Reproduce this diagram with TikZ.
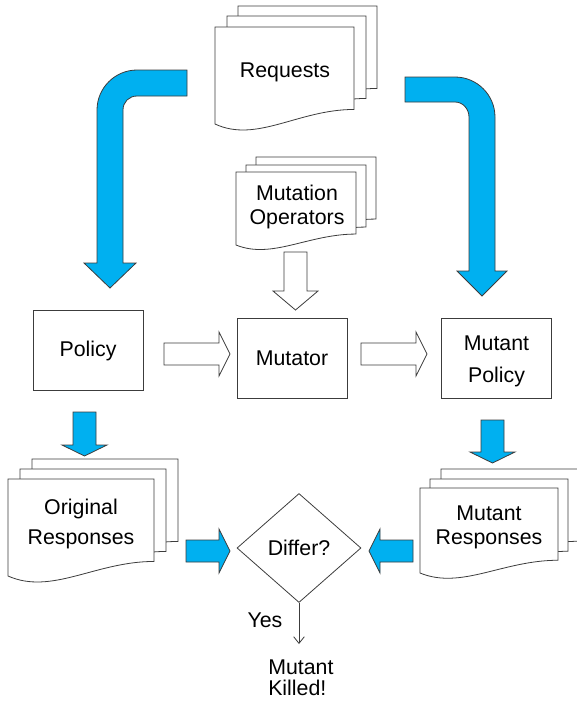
\documentclass[tikz,border=0pt]{standalone}
\usepackage{fontspec}
\setmainfont{Liberation Sans}
\usetikzlibrary{calc}
\usetikzlibrary{arrows.meta}
\usetikzlibrary{shapes.geometric}

\definecolor{arrowblue}{RGB}{0,176,240}
\definecolor{edgegray}{RGB}{60,60,60}

% one page of a document stack, top left corner at (#1,#2)
\newcommand{\docpage}[4]{%
  \draw[page] (#1,#2) -- ({#1+#3},#2) -- ({#1+#3},{#2+0.85*#4})
    .. controls ({#1+0.6*#3},{#2+0.85*#4}) and ({#1+0.3*#3},{#2+1.2*#4}) .. (#1,{#2+#4}) -- cycle;}

\tikzset{
  pics/blockarrow/.style n args={4}{code={
    \draw[pic actions] (0,{-#2}) -- ({#1-#4},{-#2}) -- ({#1-#4},{-#3}) -- (#1,0)
      -- ({#1-#4},#3) -- ({#1-#4},#2) -- (0,#2) -- cycle;
  }}
}

\begin{document}
\begin{tikzpicture}[
        x=0.75pt, y=-0.75pt,
        every node/.style={font=\fontsize{16}{18}\selectfont, inner sep=0pt},
        page/.style={draw=edgegray, fill=white, line width=0.6pt},
        box/.style={draw=edgegray, line width=0.6pt, minimum width=82.5pt, minimum height=60pt},
        decision/.style={draw=edgegray, line width=0.6pt, diamond, minimum width=93pt, minimum height=81.75pt},
        doctext/.style={align=center},
        bluearrow/.style={fill=arrowblue, draw=edgegray, line width=0.6pt},
        openarrow/.style={fill=white, draw=edgegray, line width=0.6pt},
        >={Straight Barb[length=5pt,width=8pt]}
    ]
        \useasboundingbox (0,0) rectangle (577,701);
        \clip (0,0) rectangle (577,701);

        % document stacks
        \docpage{238}{6}{139}{97}
        \docpage{227}{16}{139}{97}
        \docpage{215}{27}{139}{97}
        \node[doctext] (req) at (285,72) {Requests};

        \docpage{256}{157}{120}{73}
        \docpage{246}{165}{120}{73}
        \docpage{236}{172}{120}{73}
        \node[doctext, font=\fontsize{16}{18}\selectfont] (mutops) at (297,206.5) {Mutation\\Operators};

        \docpage{32}{459}{146}{97}
        \docpage{20}{469}{146}{97}
        \docpage{8}{479}{146}{97}
        \node[doctext, font=\fontsize{16}{22.5}\selectfont] (origresp) at (81,524) {Original\\Responses};

        \docpage{441}{469}{138}{85}
        \docpage{430}{479}{138}{85}
        \docpage{420}{488}{138}{85}
        \node[doctext, font=\fontsize{16}{18}\selectfont] (mutresp) at (489,527) {Mutant\\Responses};

        % boxes
        \node[box] (policy) at (88,350.5) {Policy};
        \node[box] (mutator) at (292,358) {Mutator};
        \node[box, align=center, font=\fontsize{16}{24}\selectfont] (mutpolicy) at (496.5,358) {};
        \node[align=center, font=\fontsize{16}{24}\selectfont] (mutpolicytext) at (496.5,361) {Mutant\\Policy};
        \node[decision] (differ) at (299,548) {Differ?};

        % bent arrows from the requests
        \draw[bluearrow] (187,70) -- (137,70) .. controls (115,70) and (97,88) .. (97,110)
            -- (97,263) -- (84,263) -- (110,288) -- (136,263) -- (123,263) -- (123,110)
            .. controls (123,102) and (129,96) .. (137,96) -- (187,96) -- cycle;
        \draw[bluearrow] (405,77) -- (455,77) .. controls (477,77) and (495,95) .. (495,117)
            -- (495,271) -- (507,271) -- (482,296) -- (457,271) -- (469,271) -- (469,117)
            .. controls (469,109) and (463,102) .. (455,102) -- (405,102) -- cycle;

        % block arrows
        \pic[openarrow] at (164,354) {blockarrow={66}{11}{22}{11}};
        \pic[openarrow] at (361,354) {blockarrow={66}{11}{22}{11}};
        \pic[openarrow, rotate=-90] at (295.5,252) {blockarrow={58}{11.5}{22.5}{19}};
        \pic[bluearrow, rotate=-90] at (84.5,412) {blockarrow={44}{11.5}{22.5}{11}};
        \pic[bluearrow, rotate=-90] at (492.5,420) {blockarrow={43}{11.5}{22.5}{11}};
        \pic[bluearrow] at (186,551) {blockarrow={44}{11}{22}{11}};
        \pic[bluearrow, rotate=180] at (413,551) {blockarrow={44}{11}{22}{11}};

        % outcome
        \coordinate (killtip) at (299,644);
        \draw[->, draw=edgegray, line width=0.6pt] (differ.south) -- (killtip);
        \node (yes) at (265,620) {Yes};
        \node[align=left, anchor=west, font=\fontsize{16}{16}\selectfont] (killed) at (268,678) {Mutant\\Killed!};
    \end{tikzpicture}
\end{document}
